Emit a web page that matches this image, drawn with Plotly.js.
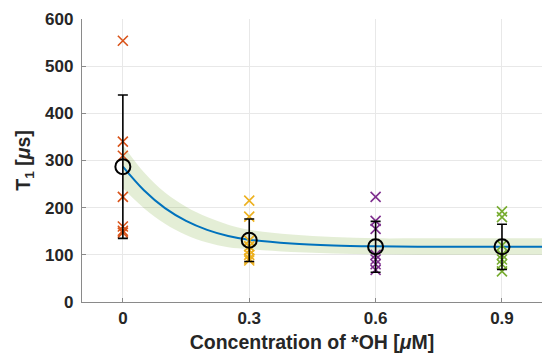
<!DOCTYPE html>
<html>
<head>
<meta charset="utf-8">
<script src="https://cdn.plot.ly/plotly-3.0.1.min.js"></script>
<style>html,body{margin:0;padding:0;background:#fff;}#chart{width:542px;height:357px;}</style>
</head>
<body>
<div id="chart"></div>
<script>
// Concentrations of *OH [uM]
const conc = [0, 0.3, 0.6, 0.9];
// Individual T1 measurements [us]
const t1_c00 = [554, 340, 310, 223, 160, 151, 147];
const t1_c03 = [215, 181, 130, 118, 110, 100, 92, 88];
const t1_c06 = [223, 172, 155, 100, 90, 80, 68];
const t1_c09 = [192, 180, 120, 100, 90, 80, 65];
// Mean and standard deviation
const t1_mean = [287, 131, 117, 117];
const t1_std = [152, 45, 54, 48];
// Fitted curve and confidence band
const fit_x = [0, 0.05, 0.1, 0.15, 0.2, 0.25, 0.3, 0.4, 0.5, 0.6, 0.7, 0.8, 0.9, 1.0];
const fit_y = [287, 237, 199, 172, 153, 140, 132, 124, 120, 118, 117, 117, 117, 117];
const band_hi = [333, 275, 232, 202, 180, 164, 153, 143, 138, 135, 135, 135, 135, 135];
const band_lo = [241, 199, 166, 142, 126, 116, 112, 106, 103, 101, 100, 100, 100, 100];
const xTicks = [0, 0.3, 0.6, 0.9];
const xTickText = ['0', '0.3', '0.6', '0.9'];
const yTicks = [0, 100, 200, 300, 400, 500, 600];

const groups = [t1_c00, t1_c03, t1_c06, t1_c09];
const colors = ['#D95319', '#EDB120', '#7E2F8E', '#77AC30'];

const traces = [];
traces.push({x: fit_x, y: band_lo, mode: 'lines', line: {width: 0, shape: 'spline'}, hoverinfo: 'skip', showlegend: false});
traces.push({x: fit_x, y: band_hi, mode: 'lines', line: {width: 0, shape: 'spline'}, fill: 'tonexty', fillcolor: 'rgba(119,172,48,0.2)', hoverinfo: 'skip', showlegend: false});
traces.push({x: fit_x, y: fit_y, mode: 'lines', line: {color: '#0072BD', width: 2, shape: 'spline'}, showlegend: false});
groups.forEach((g, i) => {
  traces.push({x: g.map(() => conc[i]), y: g, mode: 'markers', showlegend: false,
    marker: {symbol: 'x-thin', size: 10, line: {color: colors[i], width: 1.6}}});
});
traces.push({x: conc, y: t1_mean, mode: 'markers', showlegend: false,
  marker: {symbol: 'circle-open', size: 15, color: '#000', line: {color: '#000', width: 2}},
  error_y: {type: 'data', array: t1_std, visible: true, color: '#000', thickness: 1.6, width: 5}});

const fam = 'Liberation Sans, Arial, sans-serif';
const tickFont = {family: fam, size: 17, color: '#262626', weight: 'bold'};
const titleFont = {family: fam, size: 19.5, color: '#262626', weight: 'bold'};
const layout = {
  width: 542, height: 357,
  margin: {l: 82, r: 0, t: 19, b: 55},
  paper_bgcolor: '#fff', plot_bgcolor: '#fff',
  showlegend: false,
  xaxis: {
    range: [-0.097, 0.995], tickvals: xTicks, ticktext: xTickText,
    showgrid: true, gridcolor: '#e8e8e8', gridwidth: 1, zeroline: false,
    showline: true, linecolor: '#8a8a8a', linewidth: 1.2,
    ticks: 'inside', ticklen: 4, tickcolor: '#8a8a8a',
    tickfont: tickFont, automargin: false,
    title: {text: 'Concentration of *OH [<i>μ</i>M]', font: titleFont, standoff: 8}
  },
  yaxis: {
    range: [0, 600], tickvals: yTicks,
    showgrid: true, gridcolor: '#e8e8e8', gridwidth: 1, zeroline: false,
    showline: true, linecolor: '#8a8a8a', linewidth: 1.2,
    ticks: 'inside', ticklen: 4, tickcolor: '#8a8a8a',
    tickfont: tickFont, automargin: false, ticklabelstandoff: 4,
    title: {text: 'T<sub>1</sub> [<i>μ</i>s]', font: titleFont, standoff: 9}
  }
};
Plotly.newPlot('chart', traces, layout, {displayModeBar: false, staticPlot: true});
</script>
</body>
</html>
